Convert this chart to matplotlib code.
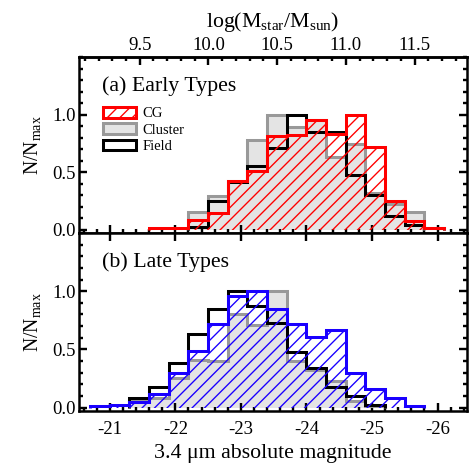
import numpy as np
import matplotlib
matplotlib.use("Agg")
import matplotlib.pyplot as plt
from matplotlib.patches import Patch
from matplotlib.ticker import MultipleLocator, FixedLocator

plt.rcParams['font.family'] = ['Liberation Serif', 'DejaVu Serif']
plt.rcParams['mathtext.fontset'] = 'custom'
plt.rcParams['mathtext.rm'] = 'Liberation Serif'
plt.rcParams['mathtext.it'] = 'Liberation Serif:italic'
plt.rcParams['hatch.linewidth'] = 1.3

# ---- data -------------------------------------------------------------
bin_edges = [-20.7, -21.0, -21.3, -21.6, -21.9, -22.2, -22.5, -22.8, -23.1, -23.4,
             -23.7, -24.0, -24.3, -24.6, -24.9, -25.2, -25.5, -25.8, -26.1, -26.4]

early_cg      = [0, 0, 0, 0.01, 0.01, 0.08, 0.14, 0.42, 0.51, 0.81, 0.82, 0.95, 0.83, 1.00, 0.72, 0.25, 0.07, 0.01, 0]
early_cluster = [0, 0, 0, 0, 0, 0.15, 0.29, 0.42, 0.78, 1.00, 0.89, 0.95, 0.63, 0.74, 0.32, 0.22, 0.15, 0, 0]
early_field   = [0, 0, 0, 0, 0, 0.02, 0.25, 0.41, 0.55, 0.71, 1.00, 0.85, 0.85, 0.47, 0.30, 0.12, 0.04, 0.01, 0]

late_cg       = [0.01, 0.02, 0.05, 0.12, 0.30, 0.49, 0.72, 0.96, 1.00, 0.85, 0.72, 0.61, 0.67, 0.30, 0.16, 0.08, 0.015, 0, 0]
late_cluster  = [0, 0, 0.06, 0.085, 0.25, 0.41, 0.40, 0.80, 0.71, 1.00, 0.40, 0.32, 0.23, 0.06, 0.01, 0, 0, 0, 0]
late_field    = [0, 0, 0.08, 0.18, 0.38, 0.63, 0.85, 1.00, 0.87, 0.73, 0.48, 0.34, 0.18, 0.10, 0.02, 0, 0, 0, 0]

mag_ticks = [-21, -22, -23, -24, -25, -26]
mass_ticks = [9.5, 10.0, 10.5, 11.0, 11.5]
y_ticks = [0.0, 0.5, 1.0]

panel_titles = ['(a) Early Types', '(b) Late Types']
series_labels = ['CG', 'Cluster', 'Field']
cg_colors = ['#ff0000', '#1a00ff']

# ---- figure -----------------------------------------------------------
DPI = 75
fig = plt.figure(figsize=(471 / DPI, 470 / DPI), dpi=DPI)
L, R = 79 / 471, 467 / 471
y_top, y_mid, y_bot = 1 - 57 / 470, 1 - 233 / 470, 1 - 411 / 470
ax1 = fig.add_axes([L, y_mid, R - L, y_top - y_mid])
ax2 = fig.add_axes([L, y_bot, R - L, y_mid - y_bot])

edges = np.array(bin_edges)
FS = 18
FT = 21
LW = 2.9


def trimmed(vals):
    v = np.array(vals, dtype=float)
    nz = np.nonzero(v)[0]
    i0, i1 = nz[0], nz[-1] + 1
    return v[i0:i1], edges[i0:i1 + 1]


def draw(ax, cg, cl, fi, ccol):
    v, e = trimmed(cl)
    ax.stairs(v, e, fill=True, facecolor='#e4e4e4', edgecolor='none', zorder=1)
    ax.stairs(v, e, fill=False, color='#999999', lw=LW, zorder=2)
    v, e = trimmed(fi)
    ax.stairs(v, e, fill=False, color='black', lw=LW, zorder=3)
    v, e = trimmed(cg)
    ax.stairs(v, e, fill=True, facecolor='none', edgecolor=ccol, hatch='//',
              linewidth=0, zorder=4)
    ax.stairs(v, e, fill=False, color=ccol, lw=LW, zorder=5)


draw(ax1, early_cg, early_cluster, early_field, cg_colors[0])
draw(ax2, late_cg, late_cluster, late_field, cg_colors[1])

for ax, title in zip([ax1, ax2], panel_titles):
    ax.set_xlim(-20.53, -26.45)
    ax.set_ylim(-0.03, 1.5)
    ax.xaxis.set_major_locator(FixedLocator(mag_ticks))
    ax.xaxis.set_minor_locator(MultipleLocator(0.2))
    ax.yaxis.set_major_locator(FixedLocator(y_ticks))
    ax.yaxis.set_minor_locator(MultipleLocator(0.1))
    ax.set_yticklabels([f'{t:.1f}' for t in y_ticks])
    ax.tick_params(which='both', direction='in', right=True, width=2.3, labelsize=FS)
    ax.tick_params(which='major', length=8)
    ax.tick_params(which='minor', length=4)
    ax.tick_params(axis='y', pad=3)
    for s in ax.spines.values():
        s.set_linewidth(2.4)
    ax.set_ylabel(r'N/N$_{\rm max}$', fontsize=19, labelpad=9)
    ax.text(0.059, 0.835, title, transform=ax.transAxes, fontsize=FT, va='center', ha='left')

ax1.tick_params(axis='x', top=False, labelbottom=False)
ax2.tick_params(axis='x', top=True, pad=10)
ax2.set_xticklabels([str(t) for t in mag_ticks])
ax2.set_xlabel('3.4 \u03bcm absolute magnitude', fontsize=FT, labelpad=5)

A, B = -0.735, -0.477
sec = ax1.secondary_xaxis('top', functions=(lambda m: A + B * m, lambda lm: (lm - A) / B))
sec.xaxis.set_major_locator(FixedLocator(mass_ticks))
sec.xaxis.set_minor_locator(MultipleLocator(0.1))
sec.set_xticklabels([f'{t:.1f}' for t in mass_ticks])
sec.tick_params(which='both', direction='in', width=2.3, labelsize=FS, pad=3)
sec.tick_params(which='major', length=8)
sec.tick_params(which='minor', length=4)
sec.spines['top'].set_linewidth(2.4)
sec.set_xlabel(r'log(M$_{\rm star}$/M$_{\rm sun}$)', fontsize=FT, labelpad=9)

handles = [
    Patch(facecolor='none', edgecolor=cg_colors[0], hatch='//', linewidth=LW),
    Patch(facecolor='#e4e4e4', edgecolor='#999999', linewidth=LW),
    Patch(facecolor='white', edgecolor='black', linewidth=LW),
]
ax1.legend(handles, series_labels, loc='upper left', bbox_to_anchor=(0.063, 0.716),
           frameon=False, fontsize=14, handlelength=2.2, handleheight=0.75,
           labelspacing=0.2, handletextpad=0.5, borderpad=0, borderaxespad=0)

fig.savefig('out.png', dpi=DPI)
